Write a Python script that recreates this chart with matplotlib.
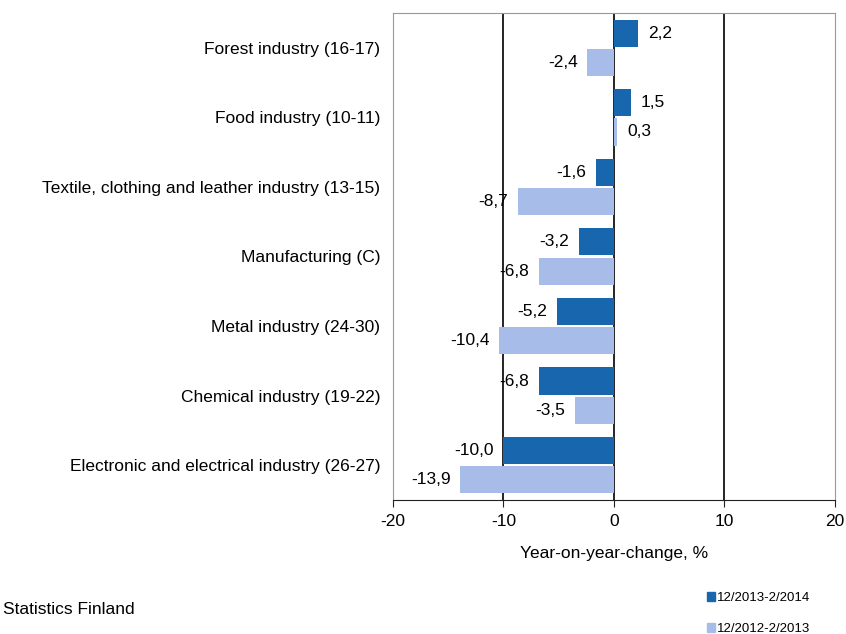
import matplotlib.pyplot as plt
from matplotlib.patches import Patch
import numpy as np

plt.rcParams['font.family'] = ['Liberation Sans', 'DejaVu Sans']

categories = [
    "Forest industry (16-17)",
    "Food industry (10-11)",
    "Textile, clothing and leather industry (13-15)",
    "Manufacturing (C)",
    "Metal industry (24-30)",
    "Chemical industry (19-22)",
    "Electronic and electrical industry (26-27)",
]
series_names = ["12/2013-2/2014", "12/2012-2/2013"]
recent = [2.2, 1.5, -1.6, -3.2, -5.2, -6.8, -10.0]
previous = [-2.4, 0.3, -8.7, -6.8, -10.4, -3.5, -13.9]
colors = ["#1866ae", "#a7bce9"]

FS = 12.5

fig = plt.figure(figsize=(8.46, 6.34), dpi=100)
ax = fig.add_axes([0.4645, 0.2114, 0.5225, 0.7681])

y = np.arange(len(categories))
h = 0.39
off = 0.21

def fmt(v):
    return f"{v:.1f}".replace(".", ",")

for vals, dy, col in [(recent, -off, colors[0]), (previous, off, colors[1])]:
    ax.barh(y + dy, vals, height=h, color=col, zorder=3)
    for yi, v in zip(y + dy, vals):
        sign = 1 if v >= 0 else -1
        ax.annotate(fmt(v), (v, yi), xytext=(sign * 7, 0), textcoords="offset points",
                    ha="left" if v >= 0 else "right", va="center", fontsize=FS)

ax.set_xlim(-20, 20)
ax.set_ylim(len(categories) - 0.5, -0.5)
ax.set_xticks([-20, -10, 0, 10, 20])
ax.set_xticklabels(["-20", "-10", "0", "10", "20"], fontsize=FS)
ax.set_yticks(y)
ax.set_yticklabels(categories, fontsize=FS)
ax.tick_params(axis="y", length=0, pad=9)
ax.tick_params(axis="x", length=5, direction="out", color="#222222", pad=5)
for xv in [-10, 0, 10]:
    ax.axvline(xv, color="black", lw=1.2, zorder=2)
for s in ["left", "top", "right"]:
    ax.spines[s].set_color("#999999")
ax.spines["bottom"].set_color("#222222")
ax.set_xlabel("Year-on-year-change, %", fontsize=FS, labelpad=12)

handles = [Patch(color=c) for c in colors]
fig.legend(handles, series_names, loc="upper left", bbox_to_anchor=(0.828, 0.077),
           frameon=False, fontsize=9.5, handlelength=0.6, handleheight=0.7,
           handletextpad=0.15, labelspacing=1.45, borderpad=0)

fig.text(0.003, 0.038, "Statistics Finland", fontsize=FS, va="center", ha="left")

fig.savefig("out.png", dpi=100)
